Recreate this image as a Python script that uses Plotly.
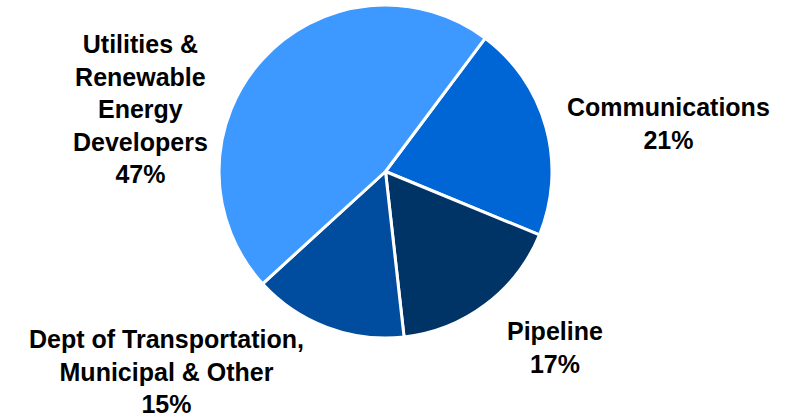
import plotly.graph_objects as go

labels = ["Communications", "Pipeline", "Dept of Transportation,<br>Municipal & Other",
          "Utilities &<br>Renewable<br>Energy<br>Developers"]
values = [21, 17, 15, 47]
colors = ["#0066D6", "#003366", "#004C9E", "#3D99FF"]
# label anchor positions (paper fraction) for text placement
label_x = [668 / 796, 555 / 796, 166 / 796, 140 / 796]
label_y = [1 - 123 / 419, 1 - 347 / 419, 1 - 371 / 419, 1 - 109 / 419]

fig = go.Figure(go.Pie(
    labels=labels,
    values=values,
    sort=False,
    direction="clockwise",
    rotation=36.8,
    marker=dict(colors=colors, line=dict(color="white", width=3)),
    textinfo="none",
    hoverinfo="label+percent",
    domain=dict(x=[219 / 796, 552 / 796], y=[1 - 338 / 419, 1 - 5 / 419]),
    showlegend=False,
))

total = sum(values)
for lab, v, x, y in zip(labels, values, label_x, label_y):
    fig.add_annotation(
        x=x, y=y, xref="paper", yref="paper",
        text=f"<b>{lab}<br>{round(100 * v / total)}%</b>",
        showarrow=False, xanchor="center", yanchor="middle",
        font=dict(family="Liberation Sans, Arial, sans-serif", size=25, color="black"),
    )

fig.update_layout(
    width=796, height=419,
    margin=dict(l=0, r=0, t=0, b=0),
    paper_bgcolor="white", plot_bgcolor="white",
)
fig.write_html("out.html", config={"displayModeBar": False},
               post_script="document.body.style.margin='0';")
